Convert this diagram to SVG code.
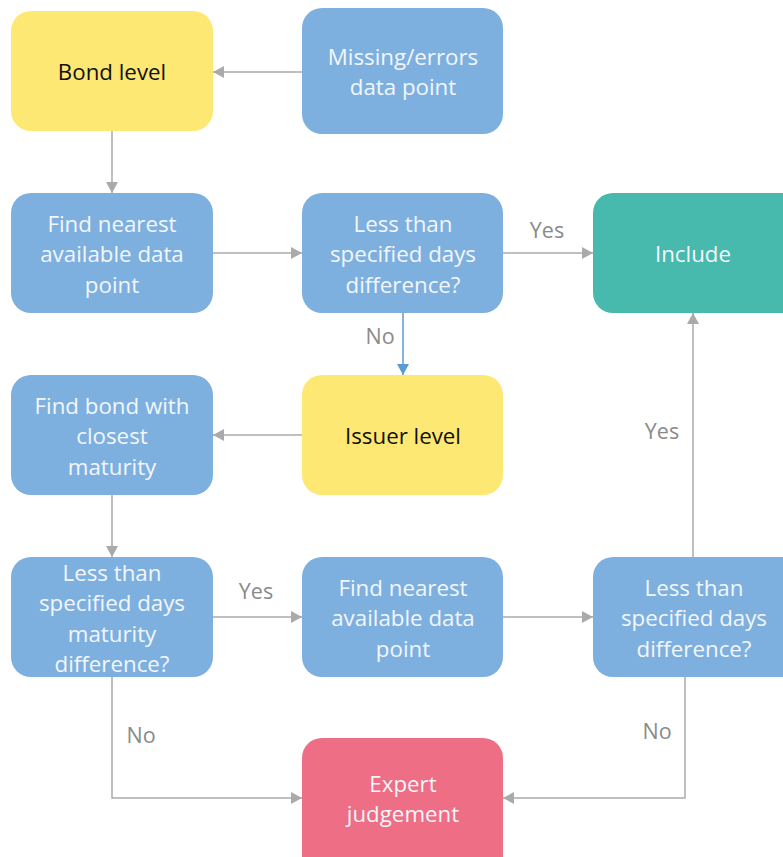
<svg xmlns="http://www.w3.org/2000/svg" width="783" height="857" viewBox="0 0 783 857">
<style>
.box{stroke:none}
.blue{fill:#7eb0df}
.yellow{fill:#fee874}
.green{fill:#48b9ad}
.pink{fill:#ee6e85}
text{font-family:"Open Sans","Noto Sans",sans-serif;font-size:22.3px;text-anchor:middle}
.wt{fill:#f2f6fb}
.bk{fill:#111}
.lbl{fill:#8a8a8a;font-size:21.5px}
.conn{fill:none;stroke:#aaaaaa;stroke-width:1.5}
.connb{fill:none;stroke:#5b9bd5;stroke-width:1.5}
</style>
<defs>
<marker id="ag" markerWidth="12" markerHeight="12" refX="11" refY="6" orient="auto" markerUnits="userSpaceOnUse">
<path d="M0,0 L11,6 L0,12 z" fill="#aaaaaa"/>
</marker>
<marker id="ab" markerWidth="12" markerHeight="12" refX="11" refY="6" orient="auto" markerUnits="userSpaceOnUse">
<path d="M0,0 L11,6 L0,12 z" fill="#5b9bd5"/>
</marker>
</defs>
<rect width="783" height="857" fill="#ffffff"/>
<g id="connectors">
<path class="conn" d="M302,72 H213" marker-end="url(#ag)"/>
<path class="conn" d="M112,131 V193" marker-end="url(#ag)"/>
<path class="conn" d="M213,253 H302" marker-end="url(#ag)"/>
<path class="conn" d="M503,253 H593" marker-end="url(#ag)"/>
<path class="connb" d="M403,313 V375" marker-end="url(#ab)"/>
<path class="conn" d="M302,435 H213" marker-end="url(#ag)"/>
<path class="conn" d="M112,495 V557" marker-end="url(#ag)"/>
<path class="conn" d="M213,617 H302" marker-end="url(#ag)"/>
<path class="conn" d="M503,617 H593" marker-end="url(#ag)"/>
<path class="conn" d="M693,557 V313" marker-end="url(#ag)"/>
<path class="conn" d="M112,677 V798 H302" marker-end="url(#ag)"/>
<path class="conn" d="M685,677 V798 H503" marker-end="url(#ag)"/>
<text class="lbl" x="547" y="238">Yes</text>
<text class="lbl" x="380" y="344">No</text>
<text class="lbl" x="662" y="439">Yes</text>
<text class="lbl" x="256" y="599">Yes</text>
<text class="lbl" x="141" y="743">No</text>
<text class="lbl" x="657" y="739">No</text>
</g>
<g id="bond-level">
<rect class="box yellow" x="11" y="11" width="202" height="120" rx="20"/>
<text class="bk" x="112" y="80">Bond level</text>
</g>
<g id="missing">
<rect class="box blue" x="302" y="8" width="201" height="126" rx="20"/>
<text class="wt" x="403" y="65">Missing/errors</text>
<text class="wt" x="403" y="95">data point</text>
</g>
<g id="find-nearest-1">
<rect class="box blue" x="11" y="193" width="202" height="120" rx="20"/>
<text class="wt" x="112" y="232">Find nearest</text>
<text class="wt" x="112" y="262">available data</text>
<text class="wt" x="112" y="293">point</text>
</g>
<g id="less-than-1">
<rect class="box blue" x="302" y="193" width="201" height="120" rx="20"/>
<text class="wt" x="403" y="232">Less than</text>
<text class="wt" x="403" y="262">specified days</text>
<text class="wt" x="403" y="293">difference?</text>
</g>
<g id="include">
<rect class="box green" x="593" y="193" width="210" height="120" rx="20"/>
<text class="wt" x="693" y="262">Include</text>
</g>
<g id="find-bond">
<rect class="box blue" x="11" y="375" width="202" height="120" rx="20"/>
<text class="wt" x="112" y="414">Find bond with</text>
<text class="wt" x="112" y="444">closest</text>
<text class="wt" x="112" y="475">maturity</text>
</g>
<g id="issuer-level">
<rect class="box yellow" x="302" y="375" width="201" height="120" rx="20"/>
<text class="bk" x="403" y="444">Issuer level</text>
</g>
<g id="less-than-maturity">
<rect class="box blue" x="11" y="557" width="202" height="120" rx="20"/>
<text class="wt" x="112" y="581">Less than</text>
<text class="wt" x="112" y="611">specified days</text>
<text class="wt" x="112" y="642">maturity</text>
<text class="wt" x="112" y="672">difference?</text>
</g>
<g id="find-nearest-2">
<rect class="box blue" x="302" y="557" width="201" height="120" rx="20"/>
<text class="wt" x="403" y="596">Find nearest</text>
<text class="wt" x="403" y="626">available data</text>
<text class="wt" x="403" y="657">point</text>
</g>
<g id="less-than-2">
<rect class="box blue" x="593" y="557" width="210" height="120" rx="20"/>
<text class="wt" x="694" y="596">Less than</text>
<text class="wt" x="694" y="626">specified days</text>
<text class="wt" x="694" y="657">difference?</text>
</g>
<g id="expert">
<rect class="box pink" x="302" y="738" width="201" height="140" rx="20"/>
<text class="wt" x="403" y="792">Expert</text>
<text class="wt" x="403" y="822">judgement</text>
</g>
</svg>
